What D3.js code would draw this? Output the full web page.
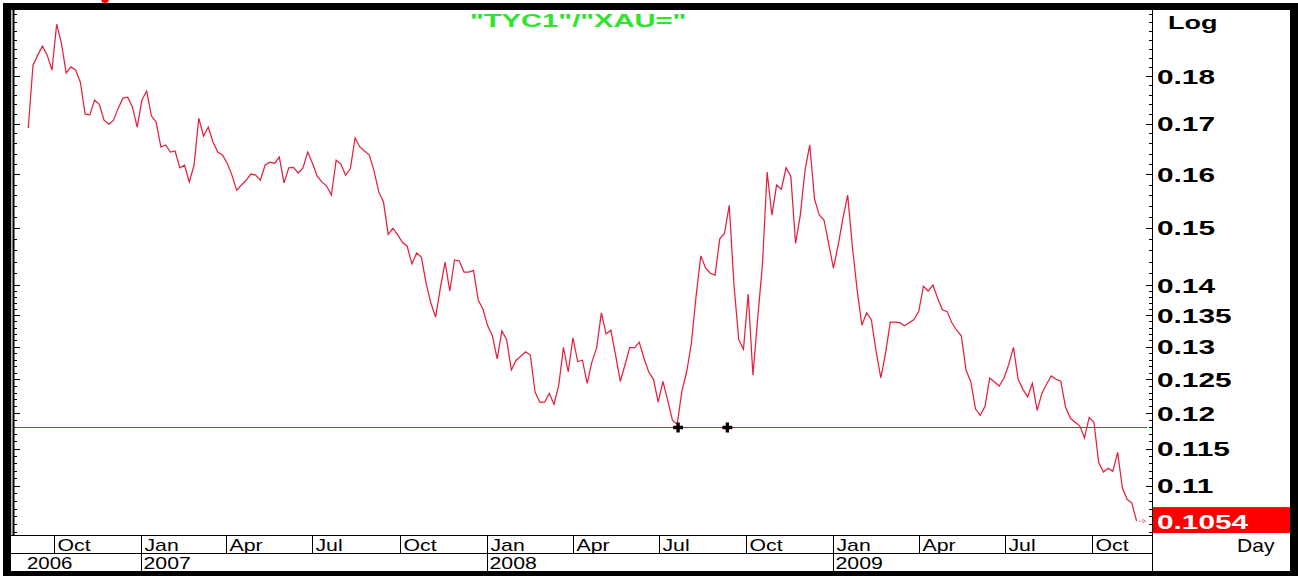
<!DOCTYPE html>
<html><head><meta charset="utf-8">
<script src="https://cdn.jsdelivr.net/npm/d3@7"></script>
<style>html,body{margin:0;padding:0;background:#fff;overflow:hidden}</style>
</head><body>
<svg id="chart" width="1298" height="576"></svg>
<script>
// ---------------- data ----------------
const chartTitle = '"TYC1"/"XAU="';
const startDate = "2006-09-04";
const stepDays = 5;
const ratioValues = [
0.1691,0.1824,0.1846,0.1866,0.1846,0.1813,0.1916,0.1873,0.1807,0.1820,
0.1813,0.1787,0.1720,0.1718,0.1749,0.1740,0.1707,0.1699,0.1707,0.1732,
0.1753,0.1755,0.1734,0.1693,0.1749,0.1768,0.1716,0.1703,0.1653,0.1657,
0.1643,0.1645,0.1612,0.1617,0.1585,0.1617,0.1711,0.1675,0.1693,0.1663,
0.1643,0.1637,0.1621,0.1598,0.1569,0.1579,0.1588,0.1600,0.1598,0.1588,
0.1617,0.1623,0.1621,0.1633,0.1583,0.1612,0.1613,0.1602,0.1612,0.1643,
0.1621,0.1596,0.1585,0.1577,0.1560,0.1627,0.1619,0.1598,0.1610,0.1671,
0.1653,0.1645,0.1637,0.1606,0.1566,0.1547,0.1488,0.1499,0.1487,0.1474,
0.1467,0.1436,0.1455,0.1448,0.1403,0.1370,0.1347,0.1395,0.1439,0.1390,
0.1443,0.1441,0.1422,0.1422,0.1425,0.1375,0.1360,0.1333,0.1317,0.1281,
0.1325,0.1311,0.1264,0.1279,0.1285,0.1292,0.1287,0.1231,0.1216,0.1216,
0.1229,0.1213,0.1241,0.1299,0.1261,0.1314,0.1277,0.1279,0.1244,0.1276,
0.1298,0.1354,0.1320,0.1326,0.1287,0.1247,0.1272,0.1299,0.1298,0.1307,
0.1282,0.1261,0.1250,0.1216,0.1247,0.1219,0.1190,0.1184,0.1232,0.1261,
0.1305,0.1382,0.1450,0.1429,0.1420,0.1417,0.1480,0.1490,0.1541,0.1400,
0.1311,0.1296,0.1385,0.1256,0.1345,0.1434,0.1604,0.1523,0.1579,0.1571,
0.1612,0.1596,0.1472,0.1523,0.1608,0.1657,0.1553,0.1523,0.1514,0.1471,
0.1429,0.1469,0.1517,0.1560,0.1466,0.1392,0.1334,0.1354,0.1343,0.1293,
0.1252,0.1290,0.1339,0.1339,0.1338,0.1333,0.1338,0.1343,0.1356,0.1398,
0.1390,0.1400,0.1378,0.1359,0.1356,0.1338,0.1326,0.1317,0.1264,0.1246,
0.1206,0.1197,0.1210,0.1252,0.1246,0.1240,0.1252,0.1272,0.1299,0.1250,
0.1235,0.1224,0.1244,0.1204,0.1229,0.1243,0.1255,0.1250,0.1247,0.1209,
0.1193,0.1187,0.1182,0.1165,0.1194,0.1187,0.1131,0.1118,0.1123,0.1119,
0.1145,0.1097,0.1082,0.1077,0.1054
];
const lastValue = 0.1054;
const lastLabel = "0.1054";
const refLevel = 0.118;
const markerDates = ["2008-07-21", "2008-09-11"];
const yTickValues = [0.18, 0.17, 0.16, 0.15, 0.14, 0.135, 0.13, 0.125, 0.12, 0.115, 0.11];
const yTickLabels = ["0.18", "0.17", "0.16", "0.15", "0.14", "0.135", "0.13", "0.125", "0.12", "0.115", "0.11"];
const xDomain = ["2006-08-21", "2009-11-28"];
const yDomain = [0.1039, 0.1949];
const firstYearLabel = "2006";
const scaleLabel = "Log";
const periodLabel = "Day";

// ---------------- chart ----------------
const svg = d3.select("#chart");
const parse = d3.utcParse("%Y-%m-%d");
const FONT = "'Liberation Sans', Arial, Helvetica, sans-serif";

const L = 15, R = 1147, T = 10, B = 533;
const axisX = 1152.5;

const x = d3.scaleUtc().domain(xDomain.map(parse)).range([L, R]);
const y = d3.scaleLog().domain(yDomain).range([B, T]);

const start = parse(startDate);
const series = ratioValues.map((v, i) => ({date: d3.utcDay.offset(start, i * stepDays), value: v}));

svg.append("rect").attr("width", 1298).attr("height", 576).attr("fill", "#fff");

// red fragment above the frame (remnant of a clipped heading)
svg.append("ellipse").attr("cx", 105).attr("cy", 0.5).attr("rx", 3.5).attr("ry", 2.5)
  .attr("fill", "#ff0000");

// frame
const frame = svg.append("g").attr("fill", "#000");
frame.append("rect").attr("x", 3).attr("y", 3).attr("width", 1295).attr("height", 7);
frame.append("rect").attr("x", 3).attr("y", 3).attr("width", 8).attr("height", 573);
frame.append("rect").attr("x", 1290).attr("y", 3).attr("width", 8).attr("height", 573);
frame.append("rect").attr("x", 3).attr("y", 571).attr("width", 1295).attr("height", 5);

// axis lines
svg.append("line").attr("x1", 13.5).attr("x2", 13.5).attr("y1", 10).attr("y2", 535)
  .attr("stroke", "#000").attr("stroke-width", 2);
svg.append("line").attr("x1", 11.5).attr("x2", 11.5).attr("y1", 10).attr("y2", 535)
  .attr("stroke", "#bbb").attr("stroke-width", 1);
svg.append("line").attr("x1", axisX).attr("x2", axisX).attr("y1", 10).attr("y2", 571)
  .attr("stroke", "#000").attr("stroke-width", 1);
svg.append("line").attr("x1", 11).attr("x2", axisX).attr("y1", 535.5).attr("y2", 535.5)
  .attr("stroke", "#000").attr("stroke-width", 1);
svg.append("line").attr("x1", 11).attr("x2", axisX).attr("y1", 553.5).attr("y2", 553.5)
  .attr("stroke", "#000").attr("stroke-width", 1);

// y ticks (major + minor) on both sides
const minorTicks = d3.range(104, 140, 1).map(d => d / 1000)
  .concat(d3.range(140, 196, 2).map(d => d / 1000))
  .filter(v => v > yDomain[0] && v < yDomain[1] && !yTickValues.some(t => Math.abs(t - v) < 1e-9));
const tickG = svg.append("g").attr("stroke", "#000").attr("stroke-width", 1);
minorTicks.forEach(v => {
  const yy = Math.round(y(v)) + 0.5;
  tickG.append("line").attr("x1", 14).attr("x2", 17).attr("y1", yy).attr("y2", yy);
  tickG.append("line").attr("x1", axisX - 3.5).attr("x2", axisX).attr("y1", yy).attr("y2", yy);
});
yTickValues.forEach(v => {
  const yy = Math.round(y(v)) + 0.5;
  tickG.append("line").attr("x1", 14).attr("x2", 20).attr("y1", yy).attr("y2", yy);
  tickG.append("line").attr("x1", axisX - 6.5).attr("x2", axisX).attr("y1", yy).attr("y2", yy);
});

function stretchedText(g, txt, px, py, size, sx, opts = {}) {
  return g.append("text")
    .attr("transform", `translate(${px},${py}) scale(${sx},1)`)
    .attr("font-family", FONT)
    .attr("font-size", size)
    .attr("font-weight", opts.weight || "normal")
    .attr("fill", opts.fill || "#000")
    .text(txt);
}

// right labels
yTickValues.forEach((v, i) => {
  stretchedText(svg, yTickLabels[i], 1157, y(v) + 7.5, 21, 1.42, {weight: "bold"});
});
stretchedText(svg, scaleLabel, 1168, 29, 19, 1.42, {weight: "bold"});

// last value box
const ly = y(lastValue);
svg.append("rect").attr("x", axisX + 0.5).attr("y", ly - 14).attr("width", 1290 - axisX - 0.5).attr("height", 26)
  .attr("fill", "#ff0000");
stretchedText(svg, lastLabel, 1157, ly + 7.5, 21, 1.42, {weight: "bold", fill: "#fff"});
stretchedText(svg, periodLabel, 1237, 552, 18, 1.17);

// x axis: quarters and years
const quarters = d3.utcMonth.every(3).range(x.domain()[0], x.domain()[1]);
const fmtMonth = d3.utcFormat("%b");
const xg = svg.append("g");
quarters.forEach(d => {
  const xx = Math.round(x(d)) + 0.5;
  xg.append("line").attr("x1", xx).attr("x2", xx).attr("y1", 535.5).attr("y2", 553.5)
    .attr("stroke", "#000").attr("stroke-width", 1);
  stretchedText(xg, fmtMonth(d), xx + 3, 551, 17, 1.25);
});
const years = d3.utcYear.range(x.domain()[0], x.domain()[1]);
const fmtYear = d3.utcFormat("%Y");
years.forEach(d => {
  const xx = Math.round(x(d)) + 0.5;
  xg.append("line").attr("x1", xx).attr("x2", xx).attr("y1", 553.5).attr("y2", 571)
    .attr("stroke", "#000").attr("stroke-width", 1);
  stretchedText(xg, fmtYear(d), xx + 2, 569, 17, 1.25);
});
stretchedText(xg, firstYearLabel, L + 12, 569, 17, 1.2);

// plot clip
svg.append("clipPath").attr("id", "plotclip").append("rect")
  .attr("x", L).attr("y", T).attr("width", R - L).attr("height", B - T);
const plotG = svg.append("g").attr("clip-path", "url(#plotclip)");

// reference line
plotG.append("line").attr("x1", L).attr("x2", R)
  .attr("y1", Math.round(y(refLevel)) + 0.5).attr("y2", Math.round(y(refLevel)) + 0.5)
  .attr("stroke", "#c42a40").attr("stroke-width", 1);

// series
const line = d3.line().x(d => x(d.date)).y(d => y(d.value));
plotG.append("path").datum(series).attr("d", line)
  .attr("fill", "none").attr("stroke", "#e3213f").attr("stroke-width", 1.25)
  .attr("stroke-linejoin", "miter");

// end arrow
const lastPt = series[series.length - 1];
const ex = x(lastPt.date), ey = y(lastPt.value);
plotG.append("line").attr("x1", ex + 2).attr("x2", ex + 8).attr("y1", ey).attr("y2", ey)
  .attr("stroke", "#f07080").attr("stroke-width", 1).attr("stroke-dasharray", "2,1");
plotG.append("path").attr("d", `M${ex + 6},${ey - 2}L${ex + 9},${ey}L${ex + 6},${ey + 2}`)
  .attr("fill", "none").attr("stroke", "#f07080").attr("stroke-width", 1);

// markers
markerDates.forEach(ds => {
  svg.append("path").attr("d", d3.symbol(d3.symbolCross, 55)())
    .attr("transform", `translate(${x(parse(ds))},${Math.round(y(refLevel)) + 0.5})`)
    .attr("fill", "#000");
});

// title
stretchedText(svg, chartTitle, 470, 27, 18, 1.62, {weight: "bold", fill: "#2ee52e"});
</script>
</body></html>
